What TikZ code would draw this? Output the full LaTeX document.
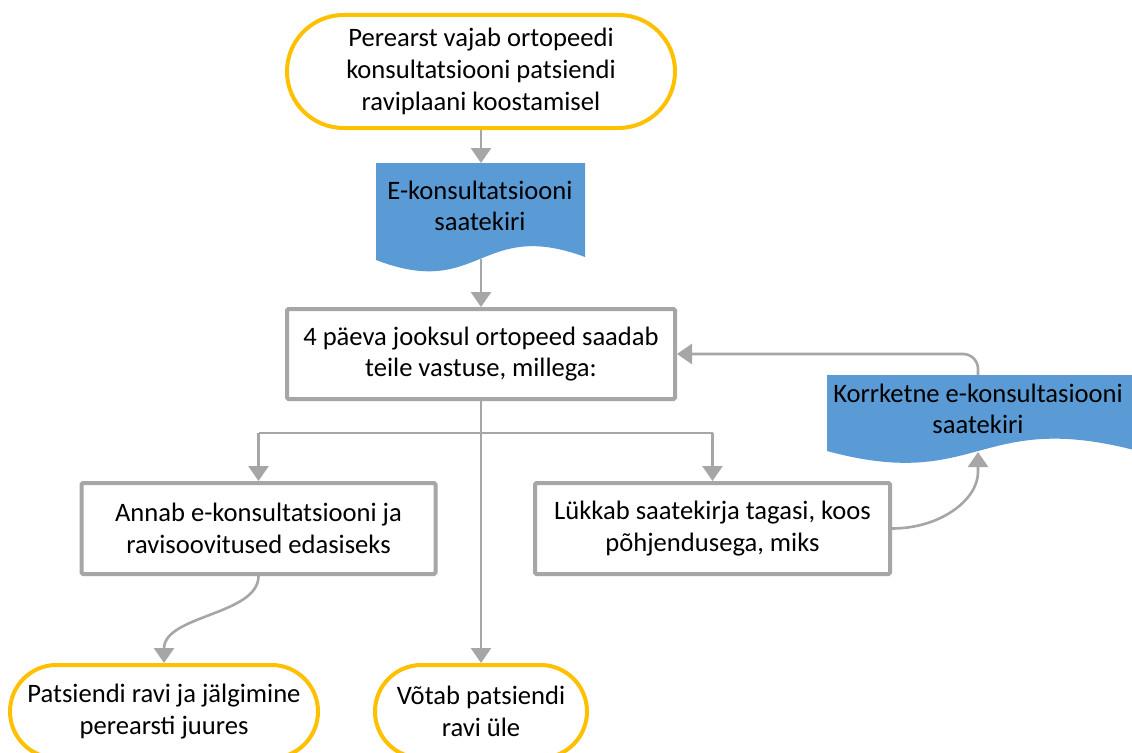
\documentclass[tikz,border=0pt]{standalone}
\usepackage{fontspec}
\setmainfont{Carlito}
\usetikzlibrary{arrows.meta}
\definecolor{termyellow}{HTML}{FFC000}
\definecolor{linegray}{HTML}{A6A6A6}
\definecolor{docblue}{HTML}{5B9BD5}
\begin{document}
\begin{tikzpicture}[x=1pt,y=-1pt,
  txt/.style={font=\fontsize{26.6}{31.7}\selectfont, align=center, text=black, inner sep=0pt},
  term/.style={draw=termyellow, line width=4pt, fill=white, txt},
  procbox/.style={draw=linegray, line width=4pt, fill=white, rounded corners=1.5pt, txt},
  doctxt/.style={txt},
  conn/.style={draw=linegray, line width=2.6pt, -{Triangle[length=15pt,width=20pt]}},
  plainline/.style={draw=linegray, line width=2.6pt}]
\useasboundingbox (0,0) rectangle (1132,752);
\clip (0,0) rectangle (1132,752);
\fill[white] (0,0) rectangle (1132,752);

% start terminal
\node[term, minimum width=388pt, minimum height=113pt, rounded corners=56.5pt] (start) at (481,71.5)
  {Perearst vajab ortopeedi\\konsultatsiooni patsiendi\\raviplaani koostamisel};

% document 1
\fill[docblue] (376,163) -- (585,163) -- (585,257) .. controls (480,218) and (480,300) .. (376,260) -- cycle;
\node[doctxt] (doc1) at (480,206) {E-konsultatsiooni\\saatekiri};
\coordinate (doc1t) at (481,163);
\coordinate (doc1b) at (481,259);

% main box
\node[procbox, minimum width=388pt, minimum height=90pt] (main) at (481,354)
  {4 päeva jooksul ortopeed saadab\\teile vastuse, millega:};

% result boxes
\node[procbox, minimum width=354pt, minimum height=91pt] (annab) at (258.5,528.5)
  {Annab e-konsultatsiooni ja\\ravisoovitused edasiseks};
\node[procbox, minimum width=355pt, minimum height=91pt] (lukk) at (712.5,528.5)
  {Lükkab saatekirja tagasi, koos\\põhjendusega, miks};

% correction document
\fill[docblue] (827,375) -- (1134,375) -- (1134,450) .. controls (978,410) and (978,492) .. (827,451) -- cycle;
\node[doctxt] (korr) at (978,409) {Korrketne e-konsultasiooni\\saatekiri};
\coordinate (korrt) at (978,375);
\coordinate (korrb) at (978,452);

% end terminals
\node[term, minimum width=308pt, minimum height=93pt, rounded corners=46.5pt] (lterm) at (164,711.5)
  {Patsiendi ravi ja jälgimine\\perearsti juures};
\node[term, minimum width=212pt, minimum height=93pt, rounded corners=46.5pt] (rterm) at (481,711.5)
  {Võtab patsiendi\\ravi üle};

% connectors
\draw[conn] (start.south) -- (doc1t);
\draw[conn] (doc1b) -- (main.north);
\draw[conn] (main.south) -- (rterm.north);
\coordinate (bl) at (258.5,433);
\coordinate (brr) at (712.5,433);
\draw[plainline] (bl) -- (brr);
\draw[conn] (bl) -- (annab.north);
\draw[conn] (brr) -- (lukk.north);
\draw[conn] (annab.south) .. controls (258.5,615) and (164,615) .. (lterm.north);
\draw[conn] (lukk.east) .. controls (940,528.5) and (978,500) .. (978,472) -- (korrb);
\draw[conn, rounded corners=15pt] (korrt) |- (main.east);
\end{tikzpicture}
\end{document}
